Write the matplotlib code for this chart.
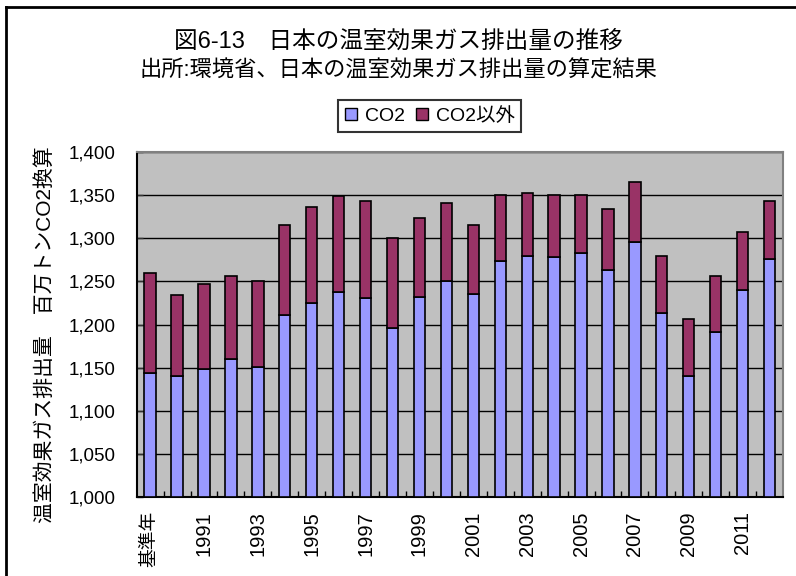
import numpy as np
import matplotlib.pyplot as plt
from matplotlib.lines import Line2D
from matplotlib.patches import Patch

plt.rcParams['font.family'] = ['Liberation Sans', 'Noto Sans CJK JP', 'DejaVu Sans']

# 年度 (基準年, 1990 .. 2012)
years = ['基準年'] + [str(y) for y in range(1990, 2013)]
# CO2 排出量 (百万トン)
co2 = [1144, 1140, 1149, 1160, 1151, 1211, 1225, 1238, 1231, 1196, 1232, 1251,
       1236, 1274, 1280, 1278, 1283, 1263, 1296, 1214, 1140, 1192, 1240, 1276]
# 合計 (CO2 + CO2以外)
total = [1260, 1234, 1247, 1256, 1251, 1316, 1336, 1349, 1343, 1300, 1323, 1341,
         1316, 1350, 1352, 1350, 1350, 1334, 1365, 1280, 1207, 1256, 1307, 1343]
other = [t - c for t, c in zip(total, co2)]

yticks = list(range(1000, 1401, 50))

fig = plt.figure(figsize=(7.96, 5.76), dpi=100)
ax = fig.add_axes([0.1717, 0.1366, 0.812, 0.5995])
ax.set_facecolor('#C0C0C0')

x = np.arange(len(years))
base = 1000
ax.bar(x, np.array(co2) - base, bottom=base, width=0.42, color='#9999FF',
       edgecolor='black', linewidth=1.2, zorder=3, label='CO2')
ax.bar(x, other, bottom=co2, width=0.42, color='#993366',
       edgecolor='black', linewidth=1.2, zorder=3, label='CO2以外')

ax.set_xlim(-0.5, len(years) - 0.5)
ax.set_ylim(1000, 1400)
ax.set_yticks(yticks)
ax.set_yticklabels([f'{v:,}' for v in yticks], fontsize=13.5)
ax.yaxis.grid(True, color='black', linewidth=1, zorder=1)
ax.set_axisbelow(True)

# x labels every other category
ax.set_xticks(x[::2])
ax.set_xticklabels(years[::2], rotation=90, fontsize=14.5, va='top')
ax.tick_params(axis='x', length=0, pad=10)
ax.set_xticks(np.arange(0.5, len(years) - 0.5, 1), minor=True)
ax.tick_params(axis='x', which='minor', direction='in', length=4, color='black', width=1)
ax.tick_params(axis='y', direction='in', length=4, color='#333333', width=1, pad=15)
# 基準年 label a bit smaller so it fits above the bottom edge
ax.get_xticklabels()[0].set_fontsize(13.5)

for s in ['top', 'right']:
    ax.spines[s].set_color('#808080')
    ax.spines[s].set_linewidth(1.5)
for s in ['left', 'bottom']:
    ax.spines[s].set_color('black')
    ax.spines[s].set_linewidth(1.5)

ax.set_ylabel('温室効果ガス排出量　百万トンCO2換算', fontsize=15)
ax.yaxis.set_label_coords(-0.127, 0.47)

fig.text(0.5, 0.928, '図6-13　日本の温室効果ガス排出量の推移', ha='center', va='center', fontsize=17)
fig.text(0.5, 0.876, '出所:環境省、日本の温室効果ガス排出量の算定結果', ha='center', va='center', fontsize=16)

handles = [Patch(facecolor='#9999FF', edgecolor='black'),
           Patch(facecolor='#993366', edgecolor='black')]
leg = fig.legend(handles, ['CO2', 'CO2以外'], loc='center', bbox_to_anchor=(0.54, 0.799), ncol=2,
                 fontsize=14, frameon=True, fancybox=False, handlelength=0.6, handleheight=0.6,
                 handletextpad=0.4, columnspacing=0.6, borderpad=0.35, borderaxespad=0)
leg.get_frame().set_edgecolor('black')
leg.get_frame().set_linewidth(1.5)

# outer chart frame
fig.add_artist(Line2D([6 / 796, 1], [1 - 7 / 576, 1 - 7 / 576], color='black', linewidth=2))
fig.add_artist(Line2D([6 / 796, 6 / 796], [0, 1 - 7 / 576], color='black', linewidth=2))

fig.savefig('out.png', dpi=100)
